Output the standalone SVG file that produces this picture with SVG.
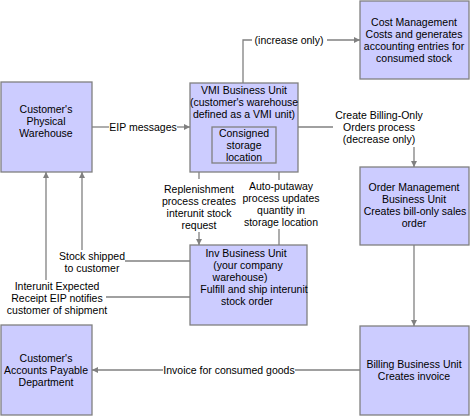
<svg xmlns="http://www.w3.org/2000/svg" width="470" height="416" viewBox="0 0 470 416">
<style>
.box{fill:#ccccff;stroke:#808080;stroke-width:1.3}
.inner{fill:none;stroke:#808080;stroke-width:1.3}
.ln{fill:none;stroke:#808080;stroke-width:1.3}
text{font-family:"Liberation Sans",Arial,sans-serif;font-size:10.5px;fill:#000;text-anchor:middle}
</style>
<defs>
<marker id="ah" markerWidth="7" markerHeight="7" refX="6" refY="3" orient="auto" markerUnits="userSpaceOnUse">
<path d="M0,0 L6,3 L0,6 z" fill="#808080"/>
</marker>
</defs>
<rect width="470" height="416" fill="#ffffff"/>
<g id="connectors">
<path class="ln" d="M92,127 H109"/>
<path class="ln" d="M177,127 H190" marker-end="url(#ah)"/>
<text x="143" y="131">EIP messages</text>
<path class="ln" d="M243,83 V40 H252"/>
<path class="ln" d="M327,40 H360" marker-end="url(#ah)"/>
<text x="289" y="44">(increase only)</text>
<path class="ln" d="M298,127 H333"/>
<text x="379" y="119">Create Billing-Only</text>
<text x="379" y="131">Orders process</text>
<text x="379" y="143">(decrease only)</text>
<path class="ln" d="M414,147 V167" marker-end="url(#ah)"/>
<path class="ln" d="M414,245 V326" marker-end="url(#ah)"/>
<path class="ln" d="M360,370 H295"/>
<text x="229" y="374">Invoice for consumed goods</text>
<path class="ln" d="M163,370 H92" marker-end="url(#ah)"/>
<path class="ln" d="M199,172 V179"/>
<text x="199" y="193">Replenishment</text>
<text x="199" y="205">process creates</text>
<text x="199" y="217">interunit stock</text>
<text x="199" y="229">request</text>
<path class="ln" d="M199,232 V245" marker-end="url(#ah)"/>
<path class="ln" d="M279,245 V229"/>
<text x="281" y="190">Auto-putaway</text>
<text x="281" y="202">process updates</text>
<text x="281" y="214">quantity in</text>
<text x="281" y="226">storage location</text>
<path class="ln" d="M279,180 V163" marker-end="url(#ah)"/>
<path class="ln" d="M190,261 H125"/>
<text x="92" y="260">Stock shipped</text>
<text x="92" y="272">to customer</text>
<path class="ln" d="M82,250 V172" marker-end="url(#ah)"/>
<path class="ln" d="M190,297 H106"/>
<text x="57" y="290">Interunit Expected</text>
<text x="57" y="302">Receipt EIP notifies</text>
<text x="57" y="314">customer of shipment</text>
<path class="ln" d="M46,280 V172" marker-end="url(#ah)"/>
</g>
<g id="physical-warehouse">
<rect class="box" x="1" y="82" width="91" height="90"/>
<text x="46" y="113">Customer's</text>
<text x="46" y="125">Physical</text>
<text x="46" y="137">Warehouse</text>
</g>
<g id="vmi-unit">
<rect class="box" x="190" y="83" width="108" height="89"/>
<text x="244" y="94">VMI Business Unit</text>
<text x="244" y="106">(customer's warehouse</text>
<text x="244" y="118">defined as a VMI unit)</text>
<rect class="inner" x="212" y="127" width="64" height="36"/>
<text x="244" y="137">Consigned</text>
<text x="244" y="149">storage</text>
<text x="244" y="161">location</text>
</g>
<g id="cost-management">
<rect class="box" x="360" y="1" width="109" height="78"/>
<text x="414" y="26">Cost Management</text>
<text x="414" y="38">Costs and generates</text>
<text x="414" y="50">accounting entries for</text>
<text x="414" y="62">consumed stock</text>
</g>
<g id="order-management">
<rect class="box" x="360" y="167" width="109" height="78"/>
<text x="414" y="191">Order Management</text>
<text x="414" y="203">Business Unit</text>
<text x="415" y="215">Creates bill-only sales</text>
<text x="414" y="227">order</text>
</g>
<g id="billing">
<rect class="box" x="360" y="326" width="109" height="89"/>
<text x="414" y="368">Billing Business Unit</text>
<text x="414" y="380">Creates invoice</text>
</g>
<g id="accounts-payable">
<rect class="box" x="1" y="325" width="91" height="90"/>
<text x="46" y="362">Customer's</text>
<text x="46" y="374">Accounts Payable</text>
<text x="46" y="386">Department</text>
</g>
<g id="inv-unit">
<rect class="box" x="190" y="245" width="117" height="80"/>
<text x="246" y="257">Inv Business Unit</text>
<text x="248" y="269">(your company</text>
<text x="240" y="281">warehouse)</text>
<text x="254" y="293">Fulfill and ship interunit</text>
<text x="247" y="305">stock order</text>
</g>
</svg>
